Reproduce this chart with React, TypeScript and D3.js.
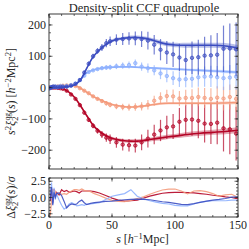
import * as d3 from "d3";

// data positions (h^-1 Mpc)
const sData = [
  0.5, 1.5, 2.5, 3.5, 5, 7, 9, 11, 14, 17.5, 21, 24.5, 28, 31.5, 35, 38.5, 42, 45.5,
  48.5, 53.5, 58.5, 63.5, 68.5, 73.5, 78.5, 83.5, 88.5, 93.5, 98.5, 103.5, 108.5,
  113.5, 118.5, 123.5, 128.5, 133.5, 138.5, 143.5, 148.5,
];

const ds1Data = [
  0, 0, 0, 0, 0, -1, -2, -4, -10, -22, -36, -56, -80, -103, -122, -138, -150, -160,
  -165, -175, -182, -184, -185, -175, -163, -150, -137, -127, -124, -109, -103,
  -102, -106, -115, -116, -112, -130, -133, -147,
];
const ds2Data = [
  0, 1, 2, 2, 3, 4, 5, 6, 7, 8, 5, -2, -10, -18, -28, -36, -43, -50,
  -55, -60, -62, -63, -62, -60, -55, -42, -33, -27, -28, -35, -33,
  -33, -30, -33, -36, -32, -35, -30, -36,
];
const ds4Data = [
  -2, 2, 1, 3, 4, 3, 5, 3, 5, 8, 13, 24, 38, 50, 55, 59, 62, 64,
  65, 68, 70, 72, 78, 67, 62, 55, 45, 37, 30, 26, 27,
  28, 33, 35, 36, 33, 30, 32, 35,
];
const ds5Data = [
  -2, 0, 2, 3, 2, 1, 2, 3, 3, 6, 12, 24, 48, 76, 100, 117, 128, 142,
  148, 153, 155, 157, 157, 155, 150, 137, 121, 112, 106, 96, 88,
  95, 97, 102, 103, 105, 124, 125, 122,
];

const errDark = [
  1, 1, 1, 1, 1, 1, 2, 2, 3, 3, 4, 5, 6, 7, 8, 9, 11, 13,
  15, 17, 19, 20, 22, 25, 28, 31, 34, 37, 40, 44, 48,
  52, 56, 60, 64, 69, 74, 80, 86,
];
const errLight = [
  1, 1, 1, 1, 1, 1, 1, 1, 2, 2, 2, 3, 3, 4, 4, 5, 6, 7,
  8, 9, 10, 11, 12, 13, 15, 16, 18, 20, 22, 24, 26,
  28, 30, 32, 34, 36, 38, 40, 42,
];

// model curves
const sModel = [0, 5, 10, 15, 20, 25, 30, 35, 40, 45, 50, 55, 60, 65, 70, 75, 80, 85, 90, 95, 100, 110, 120, 130, 140, 150];
const ds1Model = [0, 0, -2, -12, -30, -58, -90, -120, -140, -153, -162, -167, -170, -171, -171, -169, -166, -163, -160, -157, -155, -150, -146, -143, -140, -136];
const ds2Model = [0, 1, 4, 7, 7, -2, -15, -28, -38, -47, -54, -58, -61, -62, -61, -59, -56, -53, -51, -50, -50, -50, -50, -50, -49, -48];
const ds4Model = [0, 0, 1, 3, 8, 25, 47, 56, 61, 64, 65, 66, 66, 66, 65, 64, 63, 62, 61, 60, 59, 57, 55, 53, 51, 49];
const ds5Model = [0, 0, 1, 3, 8, 25, 62, 98, 120, 137, 149, 155, 158, 160, 160, 158, 154, 148, 142, 138, 136, 135, 135, 135, 133, 127];
const bandDark = [1, 1, 1, 2, 2, 3, 4, 4, 5, 5, 5, 5, 5, 6, 6, 6, 6, 7, 7, 7, 7, 8, 8, 8, 9, 9];
const bandLight = [1, 1, 1, 1, 1, 2, 2, 2, 3, 3, 3, 3, 3, 3, 3, 3, 3, 4, 4, 4, 4, 4, 4, 5, 5, 5];

// residuals
const sRes = [1, 2, 3, 4, 5, 6, 8, 10, 12, 14, 16, 18, 20, 22, 24, 26, 28, 30, 33, 36, 40, 45, 50, 55, 60, 65, 70, 75, 80, 85, 90, 95, 100, 105, 110, 115, 120, 125, 130, 135, 140, 145, 150];
const ds1Res = [-0.5, 1.4, -0.8, 1.3, 0.2, 0.8, 0.4, 1.2, 0.9, 1.1, 0.8, 0.9, 1.0, 0.9, 0.7, 1.0, 1.0, 1.0, 1.0, 0.9, 0.7, 0.3, -0.1, -0.4, -0.55, -0.5, -0.4, -0.1, 0.2, 0.45, 0.65, 0.75, 0.8, 0.8, 0.75, 0.7, 0.6, 0.5, 0.35, 0.25, 0.1, 0.0, -0.2];
const ds2Res = [-2.8, -0.5, 1.3, 0.2, 0.9, 0.4, 0.7, 0.5, 0.6, 0.5, 0.8, 1.0, 1.2, 1.2, 1.1, 1.3, 1.1, 1.0, 0.9, 0.6, 0.3, -0.1, -0.45, -0.6, -0.65, -0.45, -0.15, 0.1, 0.5, 0.85, 1.15, 1.3, 1.3, 1.0, 0.55, 1.0, 1.05, 0.9, 0.6, 0.2, 0.4, 0.5, 0.0];
const ds4Res = [0.5, 2.3, -1.0, 1.5, -0.3, 0.5, -0.4, -1.2, -1.8, -1.5, -1.0, -0.8, -1.0, -1.3, -1.2, -1.1, -1.2, -1.0, -1.0, -0.9, -0.8, -0.3, 0.2, 0.4, 0.6, 1.2, 0.2, -0.2, -0.5, -0.7, -0.9, -1.0, -1.2, -1.3, -1.3, -1.0, -0.7, -0.6, -0.5, -0.5, -0.5, -0.4, -0.4];
const ds5Res = [-0.3, 1.6, -1.2, 0.8, 0.0, 0.6, 0.7, 0.3, -0.6, -1.6, -1.2, -1.0, -1.1, -1.0, -0.6, -0.4, -0.8, -1.1, -0.9, -0.8, -0.7, -0.6, -0.55, -0.45, -0.35, -0.3, -0.25, -0.3, -0.35, -0.5, -0.65, -0.75, -0.9, -1.05, -1.1, -0.95, -0.75, -0.55, -0.4, -0.3, -0.15, 0.05, 0.1];

const series = [
  { color: "#b40426", data: ds1Data, err: errDark, model: ds1Model, band: bandDark, res: ds1Res },
  { color: "#f49a7b", data: ds2Data, err: errLight, model: ds2Model, band: bandLight, res: ds2Res },
  { color: "#8db0fe", data: ds4Data, err: errLight, model: ds4Model, band: bandLight, res: ds4Res },
  { color: "#3b4cc0", data: ds5Data, err: errDark, model: ds5Model, band: bandDark, res: ds5Res },
];

const xMajor = [0, 50, 100, 150];
const yMajor = [-200, -100, 0, 100, 200];
const rMajor = [-2.5, 0, 2.5];

const font = "'Liberation Serif', 'DejaVu Serif', serif";
const ink = "#262626";

const fmt = (v: number, digits = 0) => (v < 0 ? "\u2212" : "") + Math.abs(v).toFixed(digits);

const App = () => {
  const left = 49;
  const right = 238;
  const mainTop = 14;
  const mainBottom = 169;
  const resTop = 178;
  const resBottom = 217;

  const x = d3.scaleLinear().domain([0, 150]).range([left, right]);
  const y = d3.scaleLinear().domain([-260, 235]).range([mainBottom, mainTop]);
  const yr = d3.scaleLinear().domain([-3, 3]).range([resBottom, resTop]);

  const modelLine = d3
    .line<[number, number]>()
    .x((d) => x(d[0]))
    .y((d) => y(d[1]))
    .curve(d3.curveCatmullRom);
  const modelBand = d3
    .area<[number, number, number]>()
    .x((d) => x(d[0]))
    .y0((d) => y(d[1] - d[2]))
    .y1((d) => y(d[1] + d[2]))
    .curve(d3.curveCatmullRom);
  const resLine = d3
    .line<[number, number]>()
    .x((d) => x(d[0]))
    .y((d) => yr(d[1]));

  const xMinor = d3.range(0, 151, 10);
  const yMinor = d3.range(-250, 236, 25);
  const rMinor = d3.range(-3, 3.01, 0.5);

  const ticks = (
    sc: d3.ScaleLinear<number, number>,
    major: number[],
    minor: number[],
    top: number,
    bottom: number,
    key: string
  ) => (
    <g stroke={ink} strokeWidth={0.7}>
      {minor.map((v) => (
        <g key={`${key}m${v}`}>
          <line x1={left} x2={left + 2} y1={sc(v)} y2={sc(v)} />
          <line x1={right} x2={right - 2} y1={sc(v)} y2={sc(v)} />
        </g>
      ))}
      {major.map((v) => (
        <g key={`${key}M${v}`}>
          <line x1={left} x2={left + 3.5} y1={sc(v)} y2={sc(v)} />
          <line x1={right} x2={right - 3.5} y1={sc(v)} y2={sc(v)} />
        </g>
      ))}
      {xMinor.map((v) => (
        <g key={`${key}xm${v}`}>
          <line x1={x(v)} x2={x(v)} y1={top} y2={top + 2} />
          <line x1={x(v)} x2={x(v)} y1={bottom} y2={bottom - 2} />
        </g>
      ))}
      {xMajor.map((v) => (
        <g key={`${key}xM${v}`}>
          <line x1={x(v)} x2={x(v)} y1={top} y2={top + 3.5} />
          <line x1={x(v)} x2={x(v)} y1={bottom} y2={bottom - 3.5} />
        </g>
      ))}
    </g>
  );

  return (
    <svg
      width={249}
      height={249}
      style={{ position: "absolute", left: 0, top: 0, background: "#fff" }}
      fontFamily={font}
    >
      <defs>
        <clipPath id="clipMain">
          <rect x={left} y={mainTop} width={right - left} height={mainBottom - mainTop} />
        </clipPath>
        <clipPath id="clipRes">
          <rect x={left} y={resTop} width={right - left} height={resBottom - resTop} />
        </clipPath>
      </defs>

      <text x={(left + right) / 2 + 0.5} y={11.5} textAnchor="middle" fontSize={12.5} fill={ink}>
        Density-split CCF quadrupole
      </text>

      {/* main panel */}
      <g clipPath="url(#clipMain)">
        {series.map((s, k) => {
          const band = sModel.map((v, i) => [v, s.model[i], s.band[i]] as [number, number, number]);
          const pts = sModel.map((v, i) => [v, s.model[i]] as [number, number]);
          return (
            <g key={`m${k}`}>
              {sData.map((v, i) => (
                <line
                  key={`e${i}`}
                  x1={x(v)}
                  x2={x(v)}
                  y1={y(s.data[i] - s.err[i])}
                  y2={y(s.data[i] + s.err[i])}
                  stroke={s.color}
                  strokeWidth={1.2}
                  strokeOpacity={0.7}
                />
              ))}
              {sData.map((v, i) => (
                <circle
                  key={`p${i}`}
                  cx={x(v)}
                  cy={y(s.data[i])}
                  r={1.7}
                  fill={s.color}
                  fillOpacity={0.5}
                  stroke={s.color}
                  strokeWidth={0.8}
                />
              ))}
              <path d={modelBand(band) ?? ""} fill={s.color} fillOpacity={0.35} stroke="none" />
              <path d={modelLine(pts) ?? ""} fill="none" stroke={s.color} strokeWidth={1.6} />
            </g>
          );
        })}
      </g>
      <rect x={left} y={mainTop} width={right - left} height={mainBottom - mainTop} fill="none" stroke={ink} strokeWidth={0.9} />
      {ticks(y, yMajor, yMinor, mainTop, mainBottom, "a")}
      {yMajor.map((v) => (
        <text key={`yl${v}`} x={left - 3} y={y(v) + 4} textAnchor="end" fontSize={12} fill={ink}>
          {fmt(v)}
        </text>
      ))}

      {/* residual panel */}
      <g clipPath="url(#clipRes)">
        {series.map((s, k) => (
          <path
            key={`r${k}`}
            d={resLine(sRes.map((v, i) => [v, s.res[i]] as [number, number])) ?? ""}
            fill="none"
            stroke={s.color}
            strokeWidth={1.2}
            strokeOpacity={0.9}
          />
        ))}
      </g>
      <rect x={left} y={resTop} width={right - left} height={resBottom - resTop} fill="none" stroke={ink} strokeWidth={0.9} />
      {ticks(yr, rMajor, rMinor, resTop, resBottom, "b")}
      {rMajor.map((v) => (
        <text key={`rl${v}`} x={left - 3} y={yr(v) + 4} textAnchor="end" fontSize={12} fill={ink}>
          {fmt(v, 1)}
        </text>
      ))}
      {xMajor.map((v) => (
        <text key={`xl${v}`} x={x(v)} y={228.5} textAnchor="middle" fontSize={12} fill={ink}>
          {v}
        </text>
      ))}

      {/* axis labels */}
      <text x={(left + right) / 2 - 1} y={242.5} textAnchor="middle" fontSize={12} fill={ink}>
        <tspan fontStyle="italic">s</tspan>
        <tspan> [</tspan>
        <tspan fontStyle="italic">h</tspan>
        <tspan fontSize={8.5} dy={-4}>{"\u22121"}</tspan>
        <tspan dy={4}>Mpc]</tspan>
      </text>

      <text transform={`translate(15, ${(mainTop + mainBottom) / 2}) rotate(-90)`} textAnchor="middle" fontSize={12} fill={ink}>
        <tspan fontStyle="italic">s</tspan>
        <tspan fontSize={8.5} dy={-4}>2</tspan>
        <tspan fontStyle="italic" dy={4}>{"\u03be"}</tspan>
        <tspan fontSize={8.5} dy={2.5}>2</tspan>
        <tspan fontSize={7.5} dx={-4} dy={-7.5}>qg</tspan>
        <tspan dy={5}>(</tspan>
        <tspan fontStyle="italic">s</tspan>
        <tspan>) [</tspan>
        <tspan fontStyle="italic">h</tspan>
        <tspan fontSize={8.5} dy={-4}>{"\u22122"}</tspan>
        <tspan dy={4}>Mpc</tspan>
        <tspan fontSize={8.5} dy={-4}>2</tspan>
        <tspan dy={4}>]</tspan>
      </text>

      <text transform={`translate(15, ${(resTop + resBottom) / 2}) rotate(-90)`} textAnchor="middle" fontSize={12} fill={ink}>
        <tspan>{"\u0394"}</tspan>
        <tspan fontStyle="italic">{"\u03be"}</tspan>
        <tspan fontSize={8.5} dy={2.5}>2</tspan>
        <tspan fontSize={7.5} dx={-4} dy={-7.5}>qg</tspan>
        <tspan dy={5}>(</tspan>
        <tspan fontStyle="italic">s</tspan>
        <tspan>)/</tspan>
        <tspan fontStyle="italic">{"\u03c3"}</tspan>
      </text>
    </svg>
  );
};

export default App;
